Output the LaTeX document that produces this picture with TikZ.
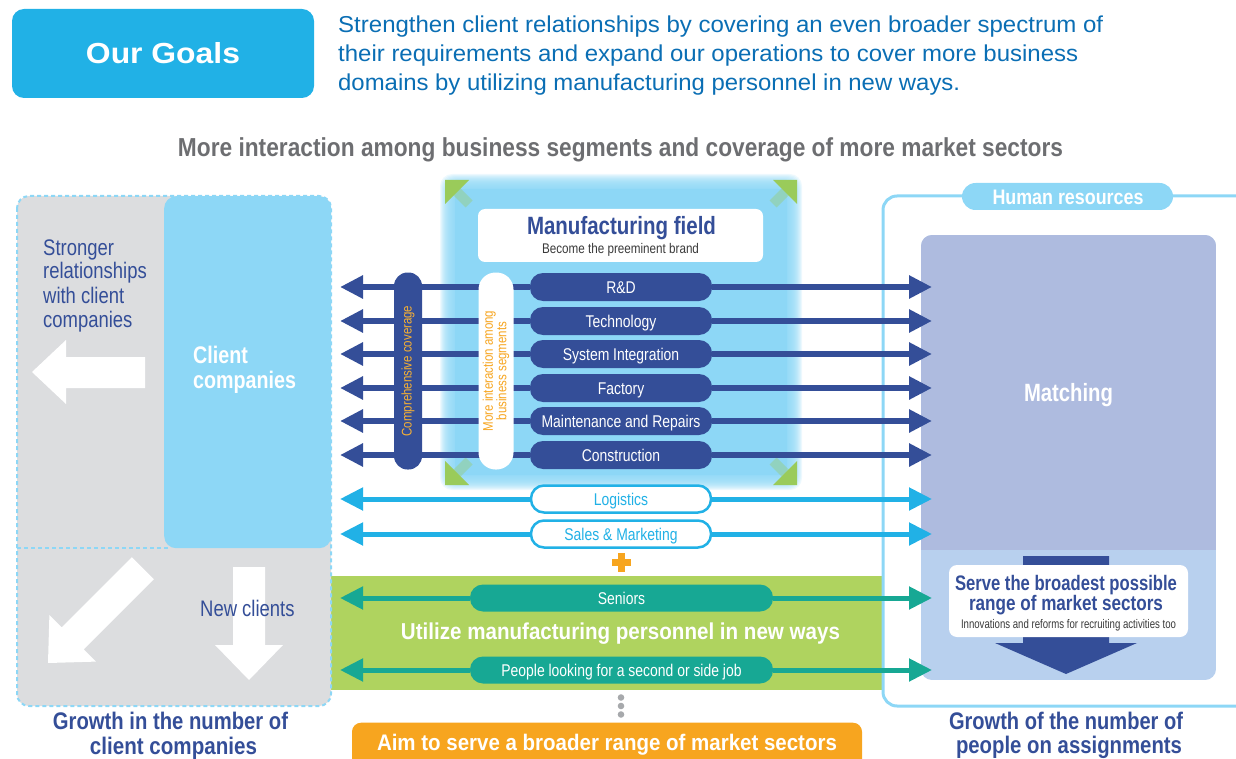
\documentclass[tikz,border=0pt]{standalone}
\usepackage{fontspec}
\usepackage{graphicx}
\setmainfont{Liberation Sans}
\newfontfamily\cnd[FakeStretch=0.82]{Liberation Sans}
\usetikzlibrary{arrows.meta}
\definecolor{sky}{HTML}{21B1E6}
\definecolor{lblue}{HTML}{8DD7F6}
\definecolor{navy}{HTML}{344E98}
\definecolor{goalblue}{HTML}{0A6EB4}
\definecolor{tgray}{HTML}{6D6E71}
\definecolor{boxgray}{HTML}{DCDDDF}
\definecolor{lgreen}{HTML}{AFD35F}
\definecolor{tealc}{HTML}{17A894}
\definecolor{orng}{HTML}{F7A51F}
\definecolor{yorng}{HTML}{F8B133}
\definecolor{lav}{HTML}{AEBBDF}
\definecolor{lmatch}{HTML}{B8D0EE}
\definecolor{gcol}{HTML}{9ACB5A}
\definecolor{dgray}{HTML}{3A3A3A}
\definecolor{dotgray}{HTML}{A7A9AC}
\newcommand\fw[2]{\resizebox{#1pt}{\height}{#2}}
\newcommand\fsz[2]{\fontsize{#1}{#2}\selectfont}
\pgfdeclarelayer{back}
\pgfdeclarelayer{mid}
\pgfsetlayers{back,mid,main}
\tikzset{
  tipend/.style={-{Triangle[length=23pt,width=22pt]}},
  navyarr/.style={tipend, draw=navy, line width=6pt},
  skyarr/.style={tipend, draw=sky, line width=5pt},
  tealarr/.style={tipend, draw=tealc, line width=5pt},
  pill/.style={rounded corners=13pt, inner sep=0pt, minimum height=28pt, text height=12pt, text depth=0pt, font=\cnd\fsz{17}{20}},
  seg/.style={pill, fill=navy, text=white, minimum width=182pt},
  segw/.style={pill, fill=white, draw=sky, line width=2.5pt, text=sky, minimum width=180pt, minimum height=27pt},
  segt/.style={pill, fill=tealc, text=white, minimum width=303pt, minimum height=27pt},
  headw/.style={text=white, inner sep=0pt, anchor=base},
  headn/.style={text=navy, inner sep=0pt, anchor=base},
  wtxt/.style={text=navy, font=\cnd\fsz{22.5}{24}, inner sep=0pt, anchor=base west},
}
\begin{document}
\begin{tikzpicture}[x=1pt,y=-1pt]
\useasboundingbox (0,0) rectangle (1236,759);
\begin{pgfonlayer}{back}
 % glow of manufacturing field
 \foreach \d in {-4,...,10}{\fill[lblue,opacity=0.15,rounded corners=12pt] ({450-\d},{184-\d}) rectangle ({792+\d},{480+\d});}
 \fill[lblue, rounded corners=6pt] (455,189) rectangle (787,475);
 \foreach \cx/\cy/\sx/\sy in {445/180/1/1, 797/180/-1/1, 445/485/1/-1, 797/485/-1/-1}{
  \begin{scope}[shift={(\cx,\cy)}, xscale=\sx, yscale=\sy]
   \fill[gcol, opacity=0.35] (11.5,4.5) -- (27.5,20.5) -- (20.5,27.5) -- (4.5,11.5) -- cycle;
   \fill[gcol] (0,0) -- (24,0) -- (0,24) -- cycle;
  \end{scope}}
 % green band
 \fill[lgreen] (331,575.5) rectangle (883,689.5);
 % human resources frame
 \draw[lblue, line width=3pt, rounded corners=14pt] (1240,196) -| (883,706) -- (1240,706);
 % matching box
 \begin{scope}
  \clip[rounded corners=11pt] (921,235) rectangle (1216,680);
  \fill[lmatch] (921,235) rectangle (1216,680);
  \fill[lav] (921,235) rectangle (1216,550);
 \end{scope}
 % gray dashed box
 \filldraw[fill=boxgray, draw=lblue, line width=2pt, dash pattern=on 4pt off 3pt, rounded corners=12pt] (17,196) rectangle (331,706);
 \draw[lblue, line width=2pt, dash pattern=on 4pt off 3pt] (17,548) -- (170,548);
 % white arrows
 \fill[white] (32,372) -- (66,340) -- (66,357) -- (145,357) -- (145,388) -- (66,388) -- (66,404) -- cycle;
 \fill[white] (249,680) -- (215,645) -- (233,645) -- (233,567) -- (265,567) -- (265,645) -- (283,645) -- cycle;
 \fill[white] (48,663) -- (49.4,615) -- (61.7,627.3) -- (131.8,557.2) -- (153.8,579.2) -- (83.7,649.3) -- (96,661.6) -- cycle;
\end{pgfonlayer}

% Our goals
\node[fill=sky, rounded corners=12pt, minimum width=302pt, minimum height=89pt, inner sep=0pt, text=white, font=\bfseries\fsz{29}{29}] (goals) at (163,53.5) {\fw{154}{Our Goals}};
\node[anchor=base west, inner sep=0pt, text=goalblue, font=\fsz{23}{23}] (g1) at (338,33) {\fw{765}{Strengthen client relationships by covering an even broader spectrum of}};
\node[anchor=base west, inner sep=0pt, text=goalblue, font=\fsz{23}{23}] (g2) at (338,62) {\fw{740}{their requirements and expand our operations to cover more business}};
\node[anchor=base west, inner sep=0pt, text=goalblue, font=\fsz{23}{23}] (g3) at (338,91) {\fw{622}{domains by utilizing manufacturing personnel in new ways.}};
\node[anchor=base, inner sep=0pt, text=tgray, font=\cnd\bfseries\fsz{26}{26}] (title) at (620.5,157) {\fw{885}{More interaction among business segments and coverage of more market sectors}};

% left side
\node[wtxt] (st1) at (43,255) {Stronger};
\node[wtxt] (st2) at (43,279) {relationships};
\node[wtxt] (st3) at (43,303) {with client};
\node[wtxt] (st4) at (43,327) {companies};
\node[fill=lblue, rounded corners=12pt, minimum width=167pt, minimum height=352pt, inner sep=0pt, anchor=north west] (client) at (164,196) {};
\node[headw, anchor=base west, font=\cnd\bfseries\fsz{24}{24}] (cl1) at (193,363) {Client};
\node[headw, anchor=base west, font=\cnd\bfseries\fsz{24}{24}] (cl2) at (193,388) {companies};
\node[wtxt] (nc) at (200,616) {New clients};
\node[headn, font=\cnd\bfseries\fsz{24}{24}] (gl1) at (170.5,729.5) {\fw{235}{Growth in the number of}};
\node[headn, font=\cnd\bfseries\fsz{24}{24}] (gl2) at (173.5,754) {\fw{167}{client companies}};

% manufacturing field
\node[fill=white, rounded corners=7pt, minimum width=285pt, minimum height=53pt, inner sep=0pt] (mf) at (620.5,235.5) {};
\node[headn, font=\cnd\bfseries\fsz{25}{25}] (mft) at (621.5,235) {\fw{189}{Manufacturing field}};
\node[anchor=base, inner sep=0pt, text=dgray, font=\cnd\fsz{14}{14}] (mfs) at (620.5,254) {\fw{157}{Become the preeminent brand}};
\node[rotate=90, fill=navy, rounded corners=13.5pt, minimum width=197pt, minimum height=28pt, inner sep=0pt, text=yorng, font=\cnd\fsz{14}{14}] (comp) at (408,371) {Comprehensive coverage};
\node[rotate=90, fill=white, rounded corners=17pt, minimum width=197pt, minimum height=35pt, inner sep=0pt, align=center, text=orng, font=\cnd\fsz{14}{13.5}] (inter) at (496,371) {More interaction among\\business segments};

% row end points
\foreach \i/\y in {1/287,2/321,3/354,4/388,5/421,6/455,7/499,8/534,9/598,10/670}{
  \coordinate (l\i) at (340,\y);
  \coordinate (r\i) at (932,\y);}

\node[seg] (s1) at (621,287) {R\&D};
\node[seg] (s2) at (621,321) {Technology};
\node[seg] (s3) at (621,354) {System Integration};
\node[seg] (s4) at (621,388) {Factory};
\node[seg] (s5) at (621,421) {Maintenance and Repairs};
\node[seg] (s6) at (621,455) {Construction};
\node[segw] (s7) at (621,499) {Logistics};
\node[segw] (s8) at (621,534) {Sales \& Marketing};
\node[segt] (s9) at (621.5,598) {Seniors};
\node[segt] (s10) at (621.5,670) {People looking for a second or side job};

\begin{pgfonlayer}{mid}
 \foreach \i in {1,...,6}{\draw[navyarr] (s\i.west) -- (l\i); \draw[navyarr] (s\i.east) -- (r\i);}
 \foreach \i in {7,8}{\draw[skyarr] (s\i.west) -- (l\i); \draw[skyarr] (s\i.east) -- (r\i);}
 \foreach \i in {9,10}{\draw[tealarr] (s\i.west) -- (l\i); \draw[tealarr] (s\i.east) -- (r\i);}
\end{pgfonlayer}

% plus, new ways, dots, aim
\fill[orng] (611.5,559) rectangle (630.5,566);
\fill[orng] (617.5,553) rectangle (624.5,572);
\node[headw, font=\cnd\bfseries\fsz{23}{23}] (util) at (620.5,639.5) {\fw{439}{Utilize manufacturing personnel in new ways}};
\foreach \y in {697.5,706,714.5}{\fill[dotgray] (621,\y) circle (3.3);}
\node[fill=orng, rounded corners=9pt, minimum width=510pt, minimum height=50pt, inner sep=0pt, anchor=north] (aim) at (607,722.5) {};
\node[headw, font=\cnd\bfseries\fsz{22.5}{22.5}] (aimt) at (607,750) {\fw{460}{Aim to serve a broader range of market sectors}};

% right side
\node[fill=lblue, rounded corners=13.5pt, minimum width=211pt, minimum height=27pt, inner sep=0pt] (hr) at (1067.5,196.5) {};
\node[headw, font=\cnd\bfseries\fsz{21}{21}] (hrt) at (1068,205) {\fw{151}{Human resources}};
\node[headw, font=\cnd\bfseries\fsz{25}{25}] (match) at (1068.5,401) {\fw{89}{Matching}};
\fill[navy] (1023,556) -- (1109,556) -- (1109,643) -- (1137,643) -- (1066,674) -- (995,643) -- (1023,643) -- cycle;
\node[fill=white, rounded corners=8pt, minimum width=239pt, minimum height=72pt, inner sep=0pt] (serve) at (1068.5,601) {};
\node[headn, font=\cnd\bfseries\fsz{21}{21}] (sv1) at (1066,590) {\fw{222}{Serve the broadest possible}};
\node[headn, font=\cnd\bfseries\fsz{21}{21}] (sv2) at (1066,610) {\fw{194}{range of market sectors}};
\node[anchor=base, inner sep=0pt, text=dgray, font=\cnd\fsz{12.5}{12.5}] (sv3) at (1068.5,628) {\fw{215}{Innovations and reforms for recruiting activities too}};
\node[headn, font=\cnd\bfseries\fsz{24}{24}] (gr1) at (1066,729) {\fw{234}{Growth of the number of}};
\node[headn, font=\cnd\bfseries\fsz{24}{24}] (gr2) at (1069,753.5) {\fw{226}{people on assignments}};
\end{tikzpicture}
\end{document}
